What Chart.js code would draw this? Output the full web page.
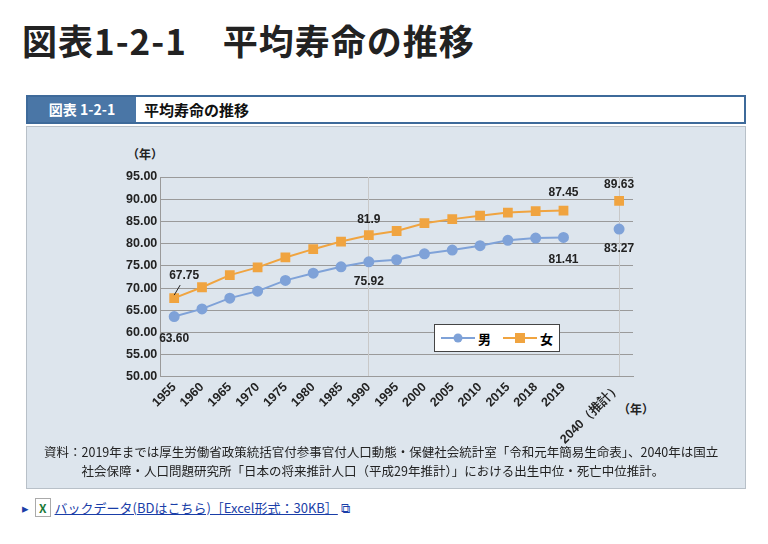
<!DOCTYPE html>
<html><head><meta charset="utf-8">
<script src="https://cdn.jsdelivr.net/npm/chart.js@4"></script>
<style>
body{margin:0;background:#fff;font-family:"Noto Sans CJK JP","Noto Sans",sans-serif;width:768px;height:544px;position:relative;overflow:hidden}
h1{position:absolute;left:22px;top:14px;margin:0;font-size:35px;font-weight:bold;color:#222;letter-spacing:1px}
.hdr{position:absolute;left:26px;top:95px;width:716px;height:25px;border:2px solid #3e6a9a;background:#fff}
.hdr .tag{position:absolute;left:0;top:0;width:108px;height:25px;background:#4a76a6;color:#fff;font-size:14px;font-weight:bold;line-height:25px;text-align:center}
.hdr .ttl{position:absolute;left:116px;top:0;font-size:15px;font-weight:bold;line-height:25px;color:#111}
.panel{position:absolute;left:26px;top:126px;width:718px;height:361px;background:#dde5ed;border:1px solid #b8c0c8}
canvas{position:absolute}
.src{position:absolute;left:44px;top:442px;font-size:12.5px;color:#222;line-height:19px}
.lbl{position:absolute;font-size:12px;font-weight:bold;color:#222}
.legend{position:absolute;left:434px;top:324px;width:124px;height:26px;background:#fff;border:1px solid #444;font-size:13px;font-weight:bold;display:flex;align-items:center;justify-content:space-around}
.legend span{display:flex;align-items:center}
.link{position:absolute;left:22px;top:498px;font-size:13px;color:#1a3ea8}
.link a{color:#1a3ea8;text-decoration:underline}
.x{display:inline-block;border:1px solid #aaa;color:#1d7a3a;font-weight:bold;font-size:12px;padding:0 3px;margin:0 4px 0 6px}
</style></head><body>
<h1>図表1-2-1　平均寿命の推移</h1>
<div class="hdr"><div class="tag">図表 1-2-1</div><div class="ttl">平均寿命の推移</div></div>
<div class="panel"></div>
<div class="lbl" style="left:127px;top:145px">（年）</div>
<div class="lbl" style="left:618px;top:400px">（年）</div>
<canvas id="c" width="540" height="285" style="left:123px;top:165px;width:540px;height:285px"></canvas>
<div class="legend">
<span><svg width="34" height="10"><line x1="0" y1="5" x2="34" y2="5" stroke="#7fa2d8" stroke-width="2"/><circle cx="17" cy="5" r="4.5" fill="#7fa2d8"/></svg>&nbsp;男</span>
<span><svg width="34" height="10"><line x1="0" y1="5" x2="34" y2="5" stroke="#f0a440" stroke-width="2"/><rect x="12" y="0" width="10" height="10" fill="#f0a440"/></svg>&nbsp;女</span>
</div>
<div class="src">資料：2019年までは厚生労働省政策統括官付参事官付人口動態・保健社会統計室「令和元年簡易生命表」、2040年は国立<br>　　　社会保障・人口問題研究所「日本の将来推計人口（平成29年推計）」における出生中位・死亡中位推計。</div>
<div class="link">▸<span class="x">X</span><a>バックデータ(BDはこちら)［Excel形式：30KB］</a> ⧉</div>
<script>
const years = ['1955','1960','1965','1970','1975','1980','1985','1990','1995','2000','2005','2010','2015','2018','2019','','2040（推計）'];
const male = [63.60,65.32,67.74,69.31,71.73,73.35,74.78,75.92,76.38,77.72,78.56,79.55,80.75,81.25,81.41,null,83.27];
const female = [67.75,70.19,72.92,74.66,76.89,78.76,80.48,81.90,82.85,84.60,85.52,86.30,86.99,87.32,87.45,null,89.63];
const maleLabels = {0:['63.60',0,22],7:['75.92',0,20],14:['81.41',0,22],16:['83.27',0,20]};
const femaleLabels = {0:['67.75',10,-22],7:['81.9',0,-16],14:['87.45',0,-18],16:['89.63',0,-16]};

const valueLabels = {
  id:'valueLabels',
  afterDatasetsDraw(chart){
    const ctx = chart.ctx;
    ctx.save();
    ctx.font = 'bold 12px "Liberation Sans", sans-serif';
    ctx.fillStyle = '#222';
    ctx.textAlign = 'center';
    ctx.textBaseline = 'middle';
    [maleLabels, femaleLabels].forEach((set, di) => {
      const meta = chart.getDatasetMeta(di);
      Object.keys(set).forEach(i => {
        const p = meta.data[i];
        const [t, dx, dy] = set[i];
        ctx.fillText(t, p.x + dx, p.y + dy);
      });
    });
    // leader line for 1955 female label
    const p = chart.getDatasetMeta(1).data[0];
    ctx.strokeStyle = '#222'; ctx.lineWidth = 1;
    ctx.beginPath(); ctx.moveTo(p.x + 6, p.y - 13); ctx.lineTo(p.x, p.y - 3); ctx.stroke();
    ctx.restore();
  }
};

new Chart(document.getElementById('c'), {
  type:'line',
  data:{labels:years, datasets:[
    {label:'男', data:male, borderColor:'#7fa2d8', backgroundColor:'#7fa2d8', pointStyle:'circle', pointRadius:4.5, borderWidth:2, spanGaps:false},
    {label:'女', data:female, borderColor:'#f0a440', backgroundColor:'#f0a440', pointStyle:'rect', pointRadius:5.5, borderWidth:2, spanGaps:false}
  ]},
  options:{
    responsive:false, animation:false,
    layout:{padding:{top:12,right:30}},
    plugins:{legend:{display:false}, tooltip:{enabled:false}},
    scales:{
      y:{min:50,max:95, ticks:{stepSize:5, color:'#222', font:{size:12.5,weight:'bold',family:'"Liberation Sans", sans-serif'}, callback:v=>v.toFixed(2)},
        grid:{color:'#9a9a9a', drawTicks:false}, border:{color:'#9a9a9a'}},
      x:{offset:true, ticks:{color:'#222', maxRotation:45, minRotation:45, autoSkip:false, font:{size:12.5,weight:'bold',family:'"Liberation Sans", sans-serif'}},
        grid:{offset:false, drawTicks:false, color:c=>(c.index===7||c.index===16)?'#c8c8c8':'transparent'}, border:{color:'#9a9a9a'}}
    }
  },
  plugins:[valueLabels]
});
</script>
</body></html>
